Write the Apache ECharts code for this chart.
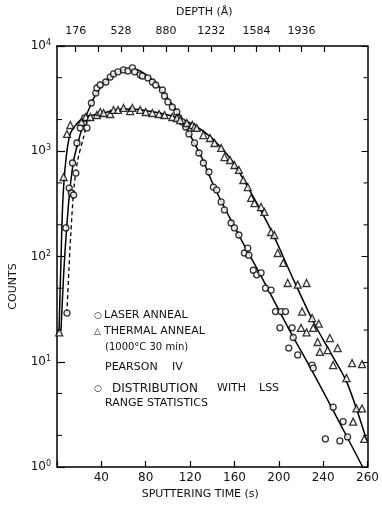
<!DOCTYPE html>
<html><head><meta charset="utf-8">
<script src="https://cdn.jsdelivr.net/npm/echarts@6/dist/echarts.min.js"></script>
<style>html,body{margin:0;padding:0;background:#fff}#c{width:382px;height:506px}</style>
</head><body><div id="c"></div>
<script>
// Laser anneal (circles)
const laserTime = [8,9,11,13,14,15,17,18,21,24,25,27,31,35,36,39,44,48,51,55,60,64,68,70,75,77,82,86,89,95,97,100,104,108,110,113,116,119,124,128,132,137,141,144,148,151,157,160,164,169,172,173,177,180,184,188,193,197,201,202,206,209,212,213,217,230,231,242,249,255,258,262];
const laserCounts = [187,29,447,401,773,384,621,1198,1664,1855,2070,1664,2873,3573,3990,4260,4550,5070,5430,5680,5930,5800,6190,5680,5320,5190,4970,4550,4260,3820,3350,2940,2630,2360,2070,1900,1700,1460,1200,962,773,635,457,428,330,277,208,187,160,108,120,103,74,67,70,50,48,30,21,30,30,13.5,21,17,11.6,9.3,8.7,1.85,3.7,1.77,2.7,1.93];
// Thermal anneal (triangles)
const thermalTime = [2,6,9,12,22,26,30,36,39,42,48,51,55,60,66,68,75,80,86,92,97,104,108,111,117,122,124,126,132,138,142,148,151,156,160,164,168,172,175,178,184,187,193,196,199,204,208,217,220,221,225,225,230,231,235,236,237,244,246,249,253,261,266,267,270,275,275,277];
const thermalCounts = [19,569,1460,1775,1900,2115,2115,2210,2360,2310,2260,2470,2470,2580,2410,2580,2470,2360,2310,2260,2210,2115,2070,1980,1855,1775,1700,1664,1426,1336,1198,1075,881,826,740,664,533,457,360,322,295,265,171,160,108,87,56,54,21,30,56,19,26,21,15.4,23,12.4,12.9,16.8,9.3,13.5,7,9.7,2.7,3.6,9.5,3.6,1.85];
// Pearson IV fitted curves
const pearsonLaserTime = [3.6,6.2,8.9,11.6,15.1,19.6,24,31.1,37.3,46.2,55.1,64,72.9,81.8,90.7,99.6,108.4,119.1,130.7,142.2,166.2,185.8,210.7,231.1,255.1,275.6];
const pearsonLaserCounts = [20,74,199,428,826,1280,1855,2873,3820,4860,5680,6050,5930,5190,4260,3210,2360,1490,863,448,144,60,19,7.8,2.6,1];
const pearsonThermalTime = [1.8,3.6,5.3,8,11.6,16.9,24,41.8,59.6,77.3,104,121.8,139.6,157.3,175.1,192.9,213.3,231.1,246.2,261.3,279.1];
const pearsonThermalCounts = [19,93,344,826,1426,1775,2070,2310,2520,2470,2160,1815,1336,826,401,179,60,24,12.4,6.4,1.8];
// LSS range statistics curve (dashed)
const lssTime = [8.9,10.7,12.4,15.1,18.7,24,28.4];
const lssCounts = [29,74,160,428,826,1366,2210];
// Axis ticks
const timeTicks = [0,40,80,120,160,200,240,280];
const timeTickLabels = ['','40','80','120','160','200','240','260'];
const depthTicks = [176,352,528,704,880,1056,1232,1408,1584,1760,1936,2112];
const depthTickLabels = [176,528,880,1232,1584,1936];
const minorCountTicks = [2,5,20,50,200,500,2000,5000];
// Legend text pieces
const legendWords = ['○','LASER ANNEAL','△','THERMAL ANNEAL','(1000°C 30 min)','PEARSON','IV','○','DISTRIBUTION','WITH','LSS','RANGE STATISTICS'];

const zip = (a,b) => a.map((v,i)=>[v,b[i]]);
const FONT = 'DejaVu Sans';
const chart = echarts.init(document.getElementById('c'), null, {renderer:'canvas'});
const axisLine = {show:true, lineStyle:{color:'#000', width:1.5}};
// placement of legend pieces: [left, top, fontSize]
const legendLayout = [[94,311,9],[104,310,11],[94,327,9],[104,326,11],[105,342,10],[105,362,11],[172,362,11],
  [94,384,9],[112,383,12],[217,383,11],[259,383,11],[105,398,11]];
const legendGraphics = legendWords.map((t,i)=>{
  const [x,y,fs] = legendLayout[i];
  return {type:'text', left:x, top:y, style:{text:t, fill:'#111', fontSize:fs, fontFamily:FONT}};
});
chart.setOption({
  backgroundColor:'#fff',
  animation:false,
  grid:{left:53, right:10, top:46, bottom:39},
  xAxis:[{
    type:'value', min:0, max:280, interval:40, position:'bottom',
    axisLine, splitLine:{show:false},
    axisTick:{inside:true, length:6, lineStyle:{color:'#000', width:1.2}},
    axisLabel:{margin:5, color:'#111', fontFamily:FONT, fontSize:12,
      formatter:v=>{const i=timeTicks.indexOf(v);return i>=0?timeTickLabels[i]:'';}},
    name:'SPUTTERING TIME (s)', nameLocation:'middle', nameGap:22,
    nameTextStyle:{color:'#111', fontFamily:FONT, fontSize:11, padding:[0,24,0,0]}
  },{
    type:'value', min:30, max:2450, position:'top',
    axisLine, splitLine:{show:false},
    axisTick:{inside:true, length:6, customValues:depthTicks, lineStyle:{color:'#000', width:1.2}},
    axisLabel:{margin:9, color:'#111', fontFamily:FONT, fontSize:11, customValues:depthTickLabels,
      formatter:v=>String(v)},
    name:'DEPTH (Å)', nameLocation:'middle', nameGap:28,
    nameTextStyle:{color:'#111', fontFamily:FONT, fontSize:11, padding:[0,16,0,0]}
  }],
  yAxis:[{
    type:'log', logBase:10, min:1, max:10000, position:'left',
    axisLine, splitLine:{show:false}, minorTick:{show:false},
    axisTick:{inside:true, length:8, lineStyle:{color:'#000', width:1.2}},
    axisLabel:{margin:6, color:'#111', fontFamily:FONT,
      formatter:v=>'{b|10}{s|'+Math.round(Math.log10(v))+'}',
      rich:{b:{fontSize:12, fontFamily:FONT, color:'#111'}, s:{fontSize:8, fontFamily:FONT, color:'#111', verticalAlign:'top', padding:[0,0,6,0]}}},
    name:'COUNTS', nameLocation:'middle', nameGap:38, nameRotate:90,
    nameTextStyle:{color:'#111', fontFamily:FONT, fontSize:11, padding:[0,60,0,0]}
  },{
    type:'log', logBase:10, min:1, max:10000, position:'right',
    axisLine, splitLine:{show:false},
    axisTick:{inside:true, length:6, lineStyle:{color:'#000', width:1}},
    axisLabel:{show:false}
  }],
  graphic: legendGraphics,
  series:[
    {type:'line', name:'Pearson IV laser', data:zip(pearsonLaserTime,pearsonLaserCounts), showSymbol:false, smooth:0.3,
      lineStyle:{color:'#000', width:1.5}, z:2},
    {type:'line', name:'Pearson IV thermal', data:zip(pearsonThermalTime,pearsonThermalCounts), showSymbol:false, smooth:0.3,
      lineStyle:{color:'#000', width:1.5}, z:2},
    {type:'line', name:'LSS', data:zip(lssTime,lssCounts), showSymbol:false, smooth:0.3,
      lineStyle:{color:'#000', width:1.3, type:[4,3]}, z:2},
    {type:'scatter', name:'Laser anneal', data:zip(laserTime,laserCounts), symbol:'circle', symbolSize:6,
      itemStyle:{color:'#fff', borderColor:'#000', borderWidth:1.3}, z:3},
    {type:'scatter', name:'Thermal anneal', data:zip(thermalTime,thermalCounts), symbol:'triangle', symbolSize:7,
      itemStyle:{color:'#fff', borderColor:'#000', borderWidth:1.3}, z:3},
    {type:'custom', name:'minor ticks', data:minorCountTicks.map(v=>[0,v]), encode:{x:0,y:1}, clip:false, silent:true,
      renderItem:(params, api)=>{
        const v = api.value(1);
        const pl = api.coord([0, v]);
        const pr = api.coord([280, v]);
        return {type:'group', children:[
          {type:'line', shape:{x1:pl[0], y1:pl[1], x2:pl[0]+5, y2:pl[1]}, style:{stroke:'#000', lineWidth:1}},
          {type:'line', shape:{x1:pr[0]-4, y1:pr[1], x2:pr[0], y2:pr[1]}, style:{stroke:'#000', lineWidth:1}}
        ]};
      }}
  ]
});
</script></body></html>
